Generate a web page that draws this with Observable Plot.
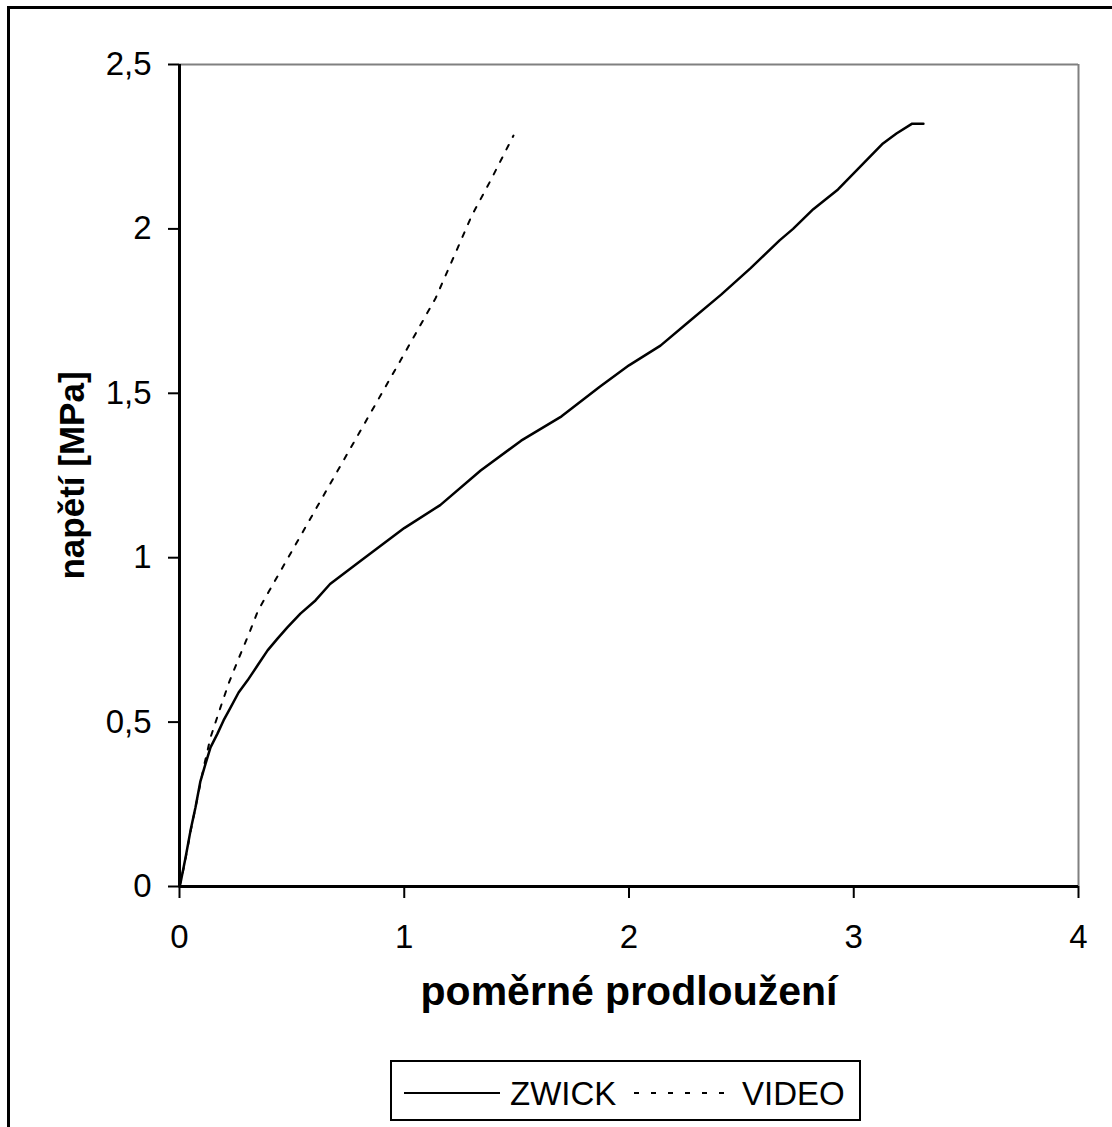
<!DOCTYPE html>
<html>
<head>
<meta charset="utf-8">
<script src="https://cdn.jsdelivr.net/npm/d3@7"></script>
<script src="https://cdn.jsdelivr.net/npm/@observablehq/plot@0.6"></script>
<style>
  html, body { margin: 0; padding: 0; background: #fff; overflow: hidden; }
  #wrap { position: relative; width: 1112px; height: 1127px; font-family: "Liberation Sans", Arial, sans-serif; }
  #border { position: absolute; left: 7px; top: 6px; width: 1115px; height: 1130px; border: 3px solid #000; box-sizing: border-box; }
  #chart { position: absolute; left: 0; top: 0; }
  #legend { position: absolute; left: 390px; top: 1060px; width: 471px; height: 61px; border: 2px solid #000; box-sizing: border-box; background: #fff; }
  #legend svg { display: block; }
</style>
</head>
<body>
<div id="wrap">
  <div id="border"></div>
  <div id="chart"></div>
  <div id="legend"></div>
</div>
<script>
// ---- data ----
const zwickX = [0, 0.004, 0.027, 0.049, 0.071, 0.093, 0.116, 0.138, 0.169, 0.196, 0.227, 0.263, 0.303, 0.347, 0.392, 0.436, 0.48, 0.538, 0.605, 0.67, 0.805, 1.0, 1.16, 1.34, 1.52, 1.70, 1.87, 2.0, 2.14, 2.27, 2.41, 2.54, 2.67, 2.73, 2.82, 2.93, 3.03, 3.13, 3.19, 3.26, 3.31];
const zwickY = [0, 0.009, 0.088, 0.17, 0.24, 0.32, 0.374, 0.423, 0.465, 0.505, 0.544, 0.59, 0.627, 0.672, 0.718, 0.754, 0.788, 0.83, 0.87, 0.92, 0.99, 1.09, 1.16, 1.265, 1.356, 1.43, 1.52, 1.585, 1.645, 1.72, 1.80, 1.88, 1.965, 2.0, 2.06, 2.12, 2.19, 2.26, 2.29, 2.32, 2.32];
const videoX = [0, 0.02, 0.05, 0.08, 0.11, 0.138, 0.182, 0.22, 0.263, 0.31, 0.35, 0.40, 0.50, 0.60, 0.70, 0.80, 0.90, 1.00, 1.14, 1.246, 1.30, 1.384, 1.486];
const videoY = [0, 0.06, 0.17, 0.27, 0.37, 0.453, 0.544, 0.62, 0.693, 0.77, 0.84, 0.90, 1.02, 1.14, 1.26, 1.38, 1.50, 1.62, 1.79, 1.955, 2.04, 2.147, 2.284];
const xTicks = [0, 1, 2, 3, 4];
const yTicks = [0, 0.5, 1, 1.5, 2, 2.5];
const xLabel = "poměrné prodloužení";
const yLabel = "napětí [MPa]";
const seriesNames = ["ZWICK", "VIDEO"];

const zwick = zwickX.map((x, i) => ({x, y: zwickY[i]}));
const video = videoX.map((x, i) => ({x, y: videoY[i]}));
const fmt = d => String(d).replace(".", ",");

const chart = Plot.plot({
  width: 1112,
  height: 1040,
  marginLeft: 179,
  marginRight: 34,
  marginTop: 64,
  marginBottom: 154,
  style: {fontFamily: '"Liberation Sans", Arial, sans-serif', background: "transparent", color: "#000"},
  x: {domain: [0, 4]},
  y: {domain: [0, 2.5]},
  marks: [
    Plot.ruleY([2.5], {stroke: "#808080", strokeWidth: 2}),
    Plot.ruleX([4], {stroke: "#808080", strokeWidth: 2}),
    Plot.axisX({ticks: xTicks, tickFormat: fmt, tickSize: 12, tickPadding: 26, fontSize: 33, strokeWidth: 2, label: null}),
    Plot.axisY({ticks: yTicks, tickFormat: fmt, tickSize: 11, tickPadding: 17, fontSize: 33, strokeWidth: 2, label: null}),
    Plot.line(video, {x: "x", y: "y", stroke: "#000", strokeWidth: 2, strokeDasharray: "5,9"}),
    Plot.line(zwick, {x: "x", y: "y", stroke: "#000", strokeWidth: 2.5}),
    Plot.ruleX([0], {stroke: "#000", strokeWidth: 3}),
    Plot.ruleY([0], {stroke: "#000", strokeWidth: 3}),
    Plot.text([xLabel], {frameAnchor: "bottom", dy: 118, text: d => d, fontSize: 41, fontWeight: "bold", fill: "#000", textAnchor: "middle"}),
    Plot.text([yLabel], {frameAnchor: "left", dx: -107, rotate: -90, text: d => d, fontSize: 35, fontWeight: "bold", fill: "#000", textAnchor: "middle"})
  ]
});
document.getElementById("chart").appendChild(chart);

// legend
const lg = d3.select("#legend").append("svg").attr("width", 467).attr("height", 57);
const y0 = 31;
lg.append("line").attr("x1", 12).attr("x2", 108).attr("y1", y0).attr("y2", y0).attr("stroke", "#000").attr("stroke-width", 2);
lg.append("text").attr("x", 118).attr("y", y0 + 12).attr("font-size", 33).attr("font-family", '"Liberation Sans", Arial, sans-serif').text(seriesNames[0]);
lg.append("line").attr("x1", 242).attr("x2", 344).attr("y1", y0).attr("y2", y0).attr("stroke", "#000").attr("stroke-width", 2).attr("stroke-dasharray", "5,12");
lg.append("text").attr("x", 350).attr("y", y0 + 12).attr("font-size", 33).attr("font-family", '"Liberation Sans", Arial, sans-serif').text(seriesNames[1]);
</script>
</body>
</html>
